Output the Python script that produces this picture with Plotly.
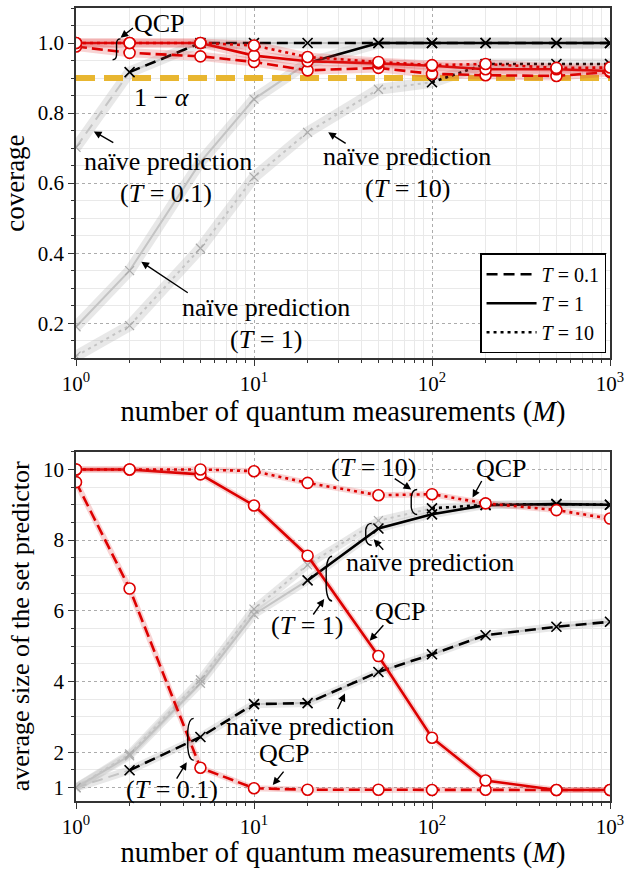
import plotly.graph_objects as go

# ---------------- data ----------------
M = [1, 2, 5, 10, 20, 50, 100, 200, 500, 1000]

# coverage of the QCP set predictor
qcp_cov_T01 = [0.990, 0.972, 0.962, 0.946, 0.922, 0.929, 0.912, 0.908, 0.906, 0.917]
qcp_cov_T1 = [1.000, 1.000, 1.000, 0.964, 0.948, 0.942, 0.935, 0.925, 0.925, 0.920]
qcp_cov_T10 = [1.000, 1.000, 1.000, 0.993, 0.960, 0.946, 0.937, 0.940, 0.929, 0.930]

# coverage of the naive predictor
naive_cov_T01 = [0.702, 0.917, 1.0, 1.0, 1.0, 1.0, 1.0, 1.0, 1.0, 1.0]
naive_cov_T1 = [0.190, 0.350, 0.660, 0.840, 0.943, 1.0, 1.0, 1.0, 1.0, 1.0]
naive_cov_T10 = [0.106, 0.193, 0.414, 0.617, 0.745, 0.868, 0.888, 0.940, 0.940, 0.940]

# average size of the set predictor
qcp_size_T01 = [9.64, 6.63, 1.56, 0.98, 0.94, 0.94, 0.93, 0.94, 0.93, 0.93]
qcp_size_T1 = [10.0, 10.0, 9.86, 8.98, 7.56, 4.72, 2.41, 1.20, 0.93, 0.93]
qcp_size_T10 = [10.0, 10.0, 10.0, 9.95, 9.62, 9.27, 9.30, 9.04, 8.85, 8.61]

naive_size_T01 = [1.00, 1.49, 2.43, 3.36, 3.39, 4.27, 4.77, 5.31, 5.55, 5.69]
naive_size_T1 = [1.00, 1.90, 3.95, 5.90, 6.86, 8.33, 8.73, 8.99, 9.02, 9.00]
naive_size_T10 = [1.00, 1.95, 4.05, 6.05, 7.30, 8.55, 8.90, 9.00, 9.02, 9.00]

# index from which the naive curve is drawn solid black (before: grey)
naive_black_from = [1, 4, 6]

temperatures = ["0.1", "1", "10"]
alpha_level = 0.9

x_tickvals = [1, 10, 100, 1000]
x_ticktext = ["10<sup>0</sup>", "10<sup>1</sup>", "10<sup>2</sup>", "10<sup>3</sup>"]
cov_tickvals = [0.2, 0.4, 0.6, 0.8, 1.0]
cov_ticktext = ["0.2", "0.4", "0.6", "0.8", "1.0"]
size_tickvals = [1, 2, 4, 6, 8, 10]
size_ticktext = ["1", "2", "4", "6", "8", "10"]

# ---------------- styling ----------------
W, H = 630, 869
ML, MR, MT, MB = 76, 14, 6, 66
FONT = "Liberation Serif"
RED = "#dd0000"
GOLD = "#e8b630"
GREY = "#c4c4c4"
DASHES = ["11px,6px", "solid", "3px,4px"]
RED_DASHES = ["11px,5px", "solid", "3px,4px"]


def px(x):
    return (x - ML) / (W - ML - MR)


def py(y):
    return 1 - (y - MT) / (H - MT - MB)


fig = go.Figure()

cov_sets = [
    (qcp_cov_T01, naive_cov_T01),
    (qcp_cov_T1, naive_cov_T1),
    (qcp_cov_T10, naive_cov_T10),
]
size_sets = [
    (qcp_size_T01, naive_size_T01),
    (qcp_size_T1, naive_size_T1),
    (qcp_size_T10, naive_size_T10),
]


def add_panel(sets, xa, ya, band_w, threshold=None):
    # naive predictor: grey band + grey line over the whole range
    for k, (_, naive) in enumerate(sets):
        fig.add_trace(go.Scatter(x=M, y=naive, mode="lines", xaxis=xa, yaxis=ya,
                                 line=dict(color="rgba(190,190,190,0.35)", width=band_w),
                                 showlegend=False, hoverinfo="skip"))
        fig.add_trace(go.Scatter(x=M, y=naive, mode="lines+markers", xaxis=xa, yaxis=ya,
                                 line=dict(color=GREY, width=2, dash=DASHES[k]),
                                 marker=dict(symbol="x-thin", size=9,
                                             line=dict(color="#aaaaaa", width=1.2)),
                                 showlegend=False, hoverinfo="skip"))
    if threshold is not None:
        fig.add_trace(go.Scatter(x=[M[0], M[-1]], y=[threshold, threshold], mode="lines",
                                 xaxis=xa, yaxis=ya,
                                 line=dict(color=GOLD, width=6, dash="19px,9px"),
                                 showlegend=False, hoverinfo="skip"))
    # naive predictor, valid part in black
    for k, (_, naive) in enumerate(sets):
        s = naive_black_from[k]
        fig.add_trace(go.Scatter(x=M[s:], y=naive[s:], mode="lines+markers", xaxis=xa, yaxis=ya,
                                 line=dict(color="black", width=2.6, dash=DASHES[k]),
                                 marker=dict(symbol="x-thin", size=10,
                                             line=dict(color="black", width=1.6)),
                                 showlegend=False, hoverinfo="skip"))
    # QCP in red
    for k, (qcp, _) in enumerate(sets):
        fig.add_trace(go.Scatter(x=M, y=qcp, mode="lines", xaxis=xa, yaxis=ya,
                                 line=dict(color="rgba(225,60,60,0.22)", width=band_w - 2),
                                 showlegend=False, hoverinfo="skip"))
        fig.add_trace(go.Scatter(x=M, y=qcp, mode="lines+markers", xaxis=xa, yaxis=ya,
                                 line=dict(color=RED, width=2.6, dash=RED_DASHES[k]),
                                 marker=dict(symbol="circle", size=11, color="white",
                                             line=dict(color=RED, width=1.6)),
                                 showlegend=False, hoverinfo="skip"))


add_panel(cov_sets, "x", "y", 11, threshold=alpha_level)
add_panel(size_sets, "x2", "y2", 8)

# legend entries
for k, t in enumerate(temperatures):
    fig.add_trace(go.Scatter(x=[None], y=[None], mode="lines", xaxis="x", yaxis="y",
                             name=f"<i>T</i> = {t}",
                             line=dict(color="black", width=2.6, dash=DASHES[k])))

# ---------------- axes ----------------
minor_x = [m * 10 ** d for d in range(3) for m in range(2, 10)]
minor_cov = [round(0.1 + 0.05 * i, 2) for i in range(21)]
minor_cov = [v for v in minor_cov if v not in cov_tickvals]
minor_size = [0.5 * i for i in range(2, 22) if 0.5 * i not in size_tickvals]

axis_common = dict(
    showline=True, linecolor="#333333", linewidth=1.5, mirror=True,
    ticks="outside", ticklen=6, tickwidth=1.2, tickcolor="#333333",
    showgrid=True, gridcolor="#acacac", gridwidth=1, griddash="dot",
    zeroline=False, tickfont=dict(family=FONT, size=21, color="black"),
    ticklabeloverflow="allow",
)


def minor(vals):
    return dict(tickmode="array", tickvals=vals, ticks="outside", ticklen=3.5,
                tickwidth=1, tickcolor="#333333", showgrid=True,
                gridcolor="#e9e9e9", gridwidth=1, griddash="solid")


XTITLE = dict(text="number of quantum measurements (<i>M</i>)", standoff=4,
              font=dict(family=FONT, size=28.5, color="black"))

top_dom = [py(358), 1.0]
bot_dom = [0.0, py(452)]

fig.update_layout(
    width=W, height=H,
    margin=dict(l=ML, r=MR, t=MT, b=MB),
    plot_bgcolor="white", paper_bgcolor="white",
    font=dict(family=FONT, color="black"),
    xaxis=dict(axis_common, type="log", range=[0, 3], domain=[0, 1], anchor="y",
               tickmode="array", tickvals=x_tickvals, ticktext=x_ticktext,
               minor=minor(minor_x), title=XTITLE),
    yaxis=dict(axis_common, range=[0.1, 1.1], domain=top_dom, anchor="x",
               tickmode="array", tickvals=cov_tickvals, ticktext=cov_ticktext,
               minor=minor(minor_cov),
               title=dict(text="coverage", standoff=6,
                          font=dict(family=FONT, size=27, color="black"))),
    xaxis2=dict(axis_common, type="log", range=[0, 3], domain=[0, 1], anchor="y2",
                tickmode="array", tickvals=x_tickvals, ticktext=x_ticktext,
                minor=minor(minor_x), title=XTITLE),
    yaxis2=dict(axis_common, range=[0.62, 10.5], domain=bot_dom, anchor="x2",
                tickmode="array", tickvals=size_tickvals, ticktext=size_ticktext,
                minor=minor(minor_size),
                title=dict(text="average size of the set predictor", standoff=6,
                           font=dict(family=FONT, size=26, color="black"))),
    legend=dict(x=px(612), y=py(353), xanchor="right", yanchor="bottom",
                bgcolor="white", bordercolor="black", borderwidth=1.5,
                font=dict(family=FONT, size=20, color="black"),
                tracegroupgap=0, itemwidth=50),
    showlegend=True,
)

# ---------------- annotations ----------------
ANN_SIZE = 26


def label(x, y, text, size=ANN_SIZE):
    fig.add_annotation(x=px(x), y=py(y), xref="paper", yref="paper", text=text,
                       showarrow=False, xanchor="center", yanchor="middle",
                       font=dict(family=FONT, size=size, color="black"))


def arrow(tail, head):
    fig.add_annotation(x=px(head[0]), y=py(head[1]), xref="paper", yref="paper",
                       ax=tail[0] - head[0], ay=tail[1] - head[1], text="",
                       showarrow=True, arrowhead=2, arrowsize=1.1, arrowwidth=1.4,
                       arrowcolor="black", standoff=0, startstandoff=0)


def brace_s(x, y1, y2):
    # integral-like brace
    path = (f"M {px(x + 4)},{py(y1)} Q {px(x)},{py(y1)} {px(x)},{py(y1 + 5)} "
            f"L {px(x)},{py(y2 - 5)} Q {px(x)},{py(y2)} {px(x - 4)},{py(y2)}")
    fig.add_shape(type="path", path=path, xref="paper", yref="paper",
                  line=dict(color="black", width=1.4))


def brace_paren(x, y1, y2):
    h = y2 - y1
    path = (f"M {px(x + 4)},{py(y1)} Q {px(x - 1)},{py(y1)} {px(x - 2)},{py(y1 + 0.3 * h)} "
            f"L {px(x - 2)},{py(y2 - 0.3 * h)} Q {px(x - 1)},{py(y2)} {px(x + 4)},{py(y2)}")
    fig.add_shape(type="path", path=path, xref="paper", yref="paper",
                  line=dict(color="black", width=1.4))


# coverage panel
label(160, 22, "QCP")
arrow((135, 25), (121, 36))
brace_s(117, 37, 58)
label(163, 96, "1 − <i>α</i>")
label(169, 160, "naïve prediction")
label(167, 192, "(<i>T</i> = 0.1)")
arrow((115, 142), (94, 130))
label(411, 155, "naïve prediction")
label(411, 187, "(<i>T</i> = 10)")
arrow((350, 143), (331, 131))
label(268, 307, "naïve prediction")
label(268, 339, "(<i>T</i> = 1)")
arrow((190, 293), (142, 261))

# size panel
label(377, 468, "(<i>T</i> = 10)")
arrow((397, 478), (415, 490))
brace_paren(417, 490, 515)
label(506, 469, "QCP")
arrow((487, 480), (477, 498))
label(434, 563, "naïve prediction")
arrow((388, 552), (377, 540))
brace_paren(371, 524, 546)
label(310, 627, "(<i>T</i> = 1)")
arrow((315, 617), (327, 600))
brace_paren(331, 557, 602)
label(404, 613, "QCP")
arrow((388, 625), (373, 642))
label(313, 728, "naïve prediction")
arrow((340, 712), (348, 695))
label(287, 755, "QCP")
arrow((287, 772), (275, 787))
label(173, 791, "(<i>T</i> = 0.1)")
arrow((177, 782), (188, 764))
brace_paren(191, 720, 762)

fig.write_html("out.html")
